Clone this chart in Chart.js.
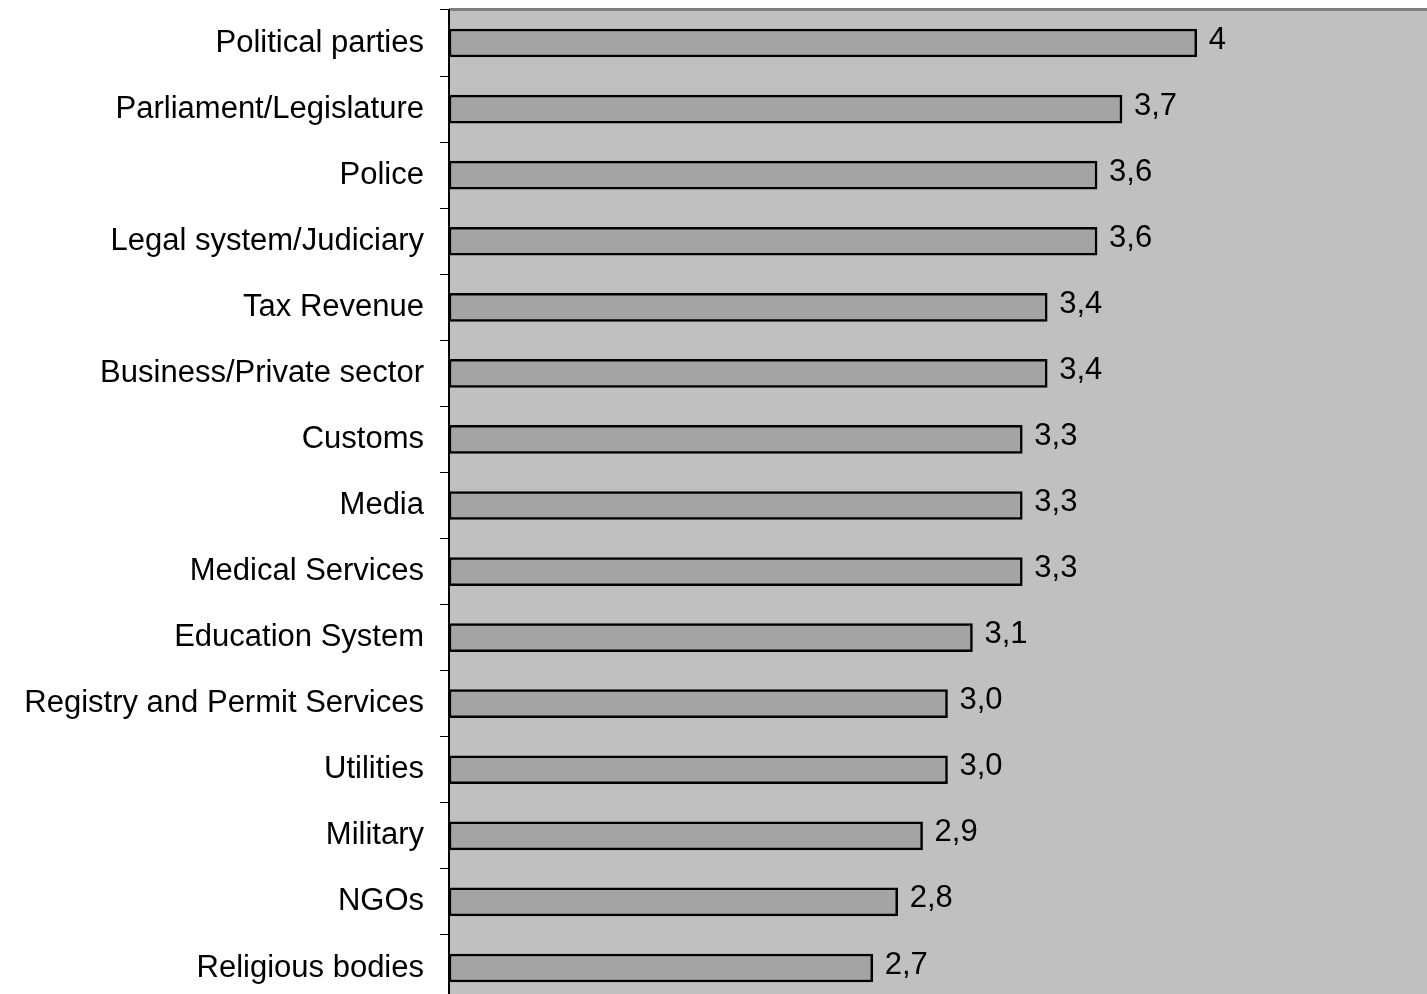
<!DOCTYPE html>
<html>
<head>
<meta charset="utf-8">
<script src="https://cdn.jsdelivr.net/npm/chart.js@4/dist/chart.umd.min.js"></script>
<style>
  html, body { margin: 0; padding: 0; background: #ffffff; overflow: hidden; }
  #wrap { width: 1460px; height: 1010px; }
</style>
</head>
<body>
<div id="wrap"><canvas id="c" width="1460" height="1010"></canvas></div>
<script>
const categories = [
  "Political parties", "Parliament/Legislature", "Police", "Legal system/Judiciary",
  "Tax Revenue", "Business/Private sector", "Customs", "Media", "Medical Services",
  "Education System", "Registry and Permit Services", "Utilities", "Military",
  "NGOs", "Religious bodies"
];
const scores = [4.0, 3.7, 3.6, 3.6, 3.4, 3.4, 3.3, 3.3, 3.3, 3.1, 3.0, 3.0, 2.9, 2.8, 2.7];
const scoreLabels = ["4", "3,7", "3,6", "3,6", "3,4", "3,4", "3,3", "3,3", "3,3", "3,1", "3,0", "3,0", "2,9", "2,8", "2,7"];
const axisMin = 1;
const axisMax = 5;

const FONT = "Liberation Sans, Arial, sans-serif";

const plotBg = {
  id: 'plotBg',
  beforeDraw(chart) {
    const { ctx, chartArea: a } = chart;
    ctx.save();
    ctx.fillStyle = '#C0C0C0';
    ctx.fillRect(a.left, a.top, a.right - a.left, a.bottom - a.top);
    ctx.strokeStyle = '#808080';
    ctx.lineWidth = 3;
    ctx.beginPath();
    ctx.moveTo(a.left, a.top - 0.5);
    ctx.lineTo(a.right, a.top - 0.5);
    ctx.stroke();
    ctx.restore();
  }
};

const valueLabels = {
  id: 'valueLabels',
  afterDatasetsDraw(chart) {
    const { ctx } = chart;
    const meta = chart.getDatasetMeta(0);
    ctx.save();
    ctx.fillStyle = '#000000';
    ctx.font = '31px ' + FONT;
    ctx.textAlign = 'left';
    ctx.textBaseline = 'middle';
    meta.data.forEach((bar, i) => {
      ctx.fillText(scoreLabels[i], bar.x + 12, bar.y - 3);
    });
    ctx.restore();
  }
};

new Chart(document.getElementById('c'), {
  type: 'bar',
  data: {
    labels: categories,
    datasets: [{
      data: scores,
      base: axisMin,
      backgroundColor: '#A4A4A4',
      borderColor: '#000000',
      borderWidth: 2.5,
      borderSkipped: false,
      barThickness: 28
    }]
  },
  options: {
    indexAxis: 'y',
    responsive: false,
    animation: false,
    devicePixelRatio: 1,
    layout: { padding: { top: 10, right: 14, bottom: 9, left: 0 } },
    plugins: {
      legend: { display: false },
      tooltip: { enabled: false }
    },
    scales: {
      x: {
        display: false,
        min: axisMin,
        max: axisMax
      },
      y: {
        afterFit(scale) {
          scale.width = 449;
          scale.paddingTop = 0;
          scale.paddingBottom = 0;
        },
        grid: {
          display: true,
          drawOnChartArea: false,
          drawTicks: true,
          tickLength: 9,
          tickColor: '#000000',
          tickWidth: 1,
          offset: true
        },
        border: { display: true, color: '#000000', width: 2 },
        ticks: {
          color: '#000000',
          font: { family: FONT, size: 31 },
          padding: 16
        }
      }
    }
  },
  plugins: [plotBg, valueLabels]
});
</script>
</body>
</html>
